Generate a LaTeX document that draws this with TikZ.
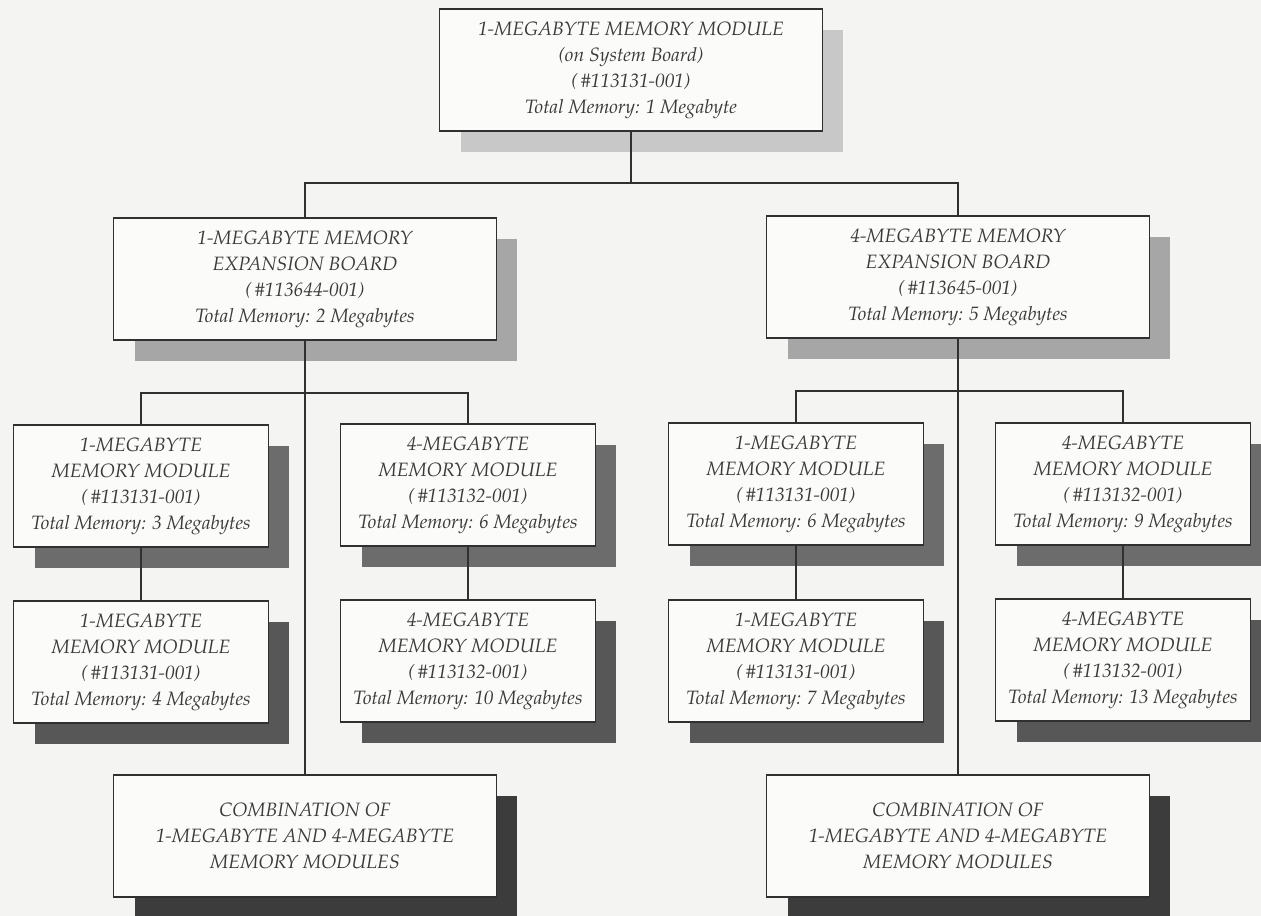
\documentclass[tikz,border=0pt]{standalone}
\usepackage[T1]{fontenc}
\usepackage{mathpazo}
\usetikzlibrary{shadows}
\definecolor{bgc}{HTML}{F4F4F2}
\definecolor{boxc}{HTML}{FBFBFA}
\definecolor{linec}{HTML}{303030}
\definecolor{txtc}{HTML}{3A3A3A}
\definecolor{shA}{HTML}{C8C8C8}
\definecolor{shB}{HTML}{A6A6A6}
\definecolor{shC}{HTML}{6C6C6C}
\definecolor{shD}{HTML}{575757}
\definecolor{shE}{HTML}{3C3C3C}
\begin{document}
\begin{tikzpicture}[x=0.02cm,y=-0.02cm,
  box/.style={draw=linec, fill=boxc, line width=0.7pt, align=center, inner sep=0pt,
    text=txtc, font=\fontsize{11}{14.8}\selectfont\itshape},
  wide/.style={box, minimum width=7.66cm, minimum height=2.44cm},
  narrow/.style={box, minimum width=5.1cm, minimum height=2.44cm},
  sh/.style={general shadow={draw=none, fill=#1, shadow xshift=0.42cm, shadow yshift=-0.42cm}},
  conn/.style={draw=linec, line width=0.7pt}]
\useasboundingbox (0,0) rectangle (1261,916);
\clip (0,0) rectangle (1261,916);
\fill[bgc] (0,0) rectangle (1261,916);

\node[wide, sh=shA] (top) at (631,70) {1-MEGABYTE MEMORY MODULE\\(on System Board)\\(\,\#113131-001)\\Total Memory: 1 Megabyte};

\node[wide, sh=shB] (eL) at (305,279) {1-MEGABYTE MEMORY\\EXPANSION BOARD\\(\,\#113644-001)\\Total Memory: 2 Megabytes};
\node[wide, sh=shB] (eR) at (958,277) {4-MEGABYTE MEMORY\\EXPANSION BOARD\\(\,\#113645-001)\\Total Memory: 5 Megabytes};

\node[narrow, sh=shC] (a1) at (141,486) {1-MEGABYTE\\MEMORY MODULE\\(\,\#113131-001)\\Total Memory: 3 Megabytes};
\node[narrow, sh=shC] (b1) at (468,485) {4-MEGABYTE\\MEMORY MODULE\\(\,\#113132-001)\\Total Memory: 6 Megabytes};
\node[narrow, sh=shC] (c1) at (796,484) {1-MEGABYTE\\MEMORY MODULE\\(\,\#113131-001)\\Total Memory: 6 Megabytes};
\node[narrow, sh=shC] (d1) at (1123,484) {4-MEGABYTE\\MEMORY MODULE\\(\,\#113132-001)\\Total Memory: 9 Megabytes};

\node[narrow, sh=shD] (a2) at (141,662) {1-MEGABYTE\\MEMORY MODULE\\(\,\#113131-001)\\Total Memory: 4 Megabytes};
\node[narrow, sh=shD] (b2) at (468,661) {4-MEGABYTE\\MEMORY MODULE\\(\,\#113132-001)\\Total Memory: 10 Megabytes};
\node[narrow, sh=shD] (c2) at (796,661) {1-MEGABYTE\\MEMORY MODULE\\(\,\#113131-001)\\Total Memory: 7 Megabytes};
\node[narrow, sh=shD] (d2) at (1123,660) {4-MEGABYTE\\MEMORY MODULE\\(\,\#113132-001)\\Total Memory: 13 Megabytes};

\node[wide, sh=shE] (cL) at (305,836) {COMBINATION OF\\1-MEGABYTE AND 4-MEGABYTE\\MEMORY MODULES};
\node[wide, sh=shE] (cR) at (958,836) {COMBINATION OF\\1-MEGABYTE AND 4-MEGABYTE\\MEMORY MODULES};

\coordinate (j0) at (631,183);
\coordinate (jL) at (305,393);
\coordinate (jR) at (958,391);

\draw[conn] (top.south) -- (j0);
\draw[conn] (eL.north) |- (j0) -| (eR.north);
\draw[conn] (eL.south) -- (cL.north);
\draw[conn] (eR.south) -- (cR.north);
\draw[conn] (a1.north) |- (jL) -| (b1.north);
\draw[conn] (c1.north) |- (jR) -| (d1.north);
\draw[conn] (a1.south) -- (a2.north);
\draw[conn] (b1.south) -- (b2.north);
\draw[conn] (c1.south) -- (c2.north);
\draw[conn] (d1.south) -- (d2.north);
\end{tikzpicture}
\end{document}
